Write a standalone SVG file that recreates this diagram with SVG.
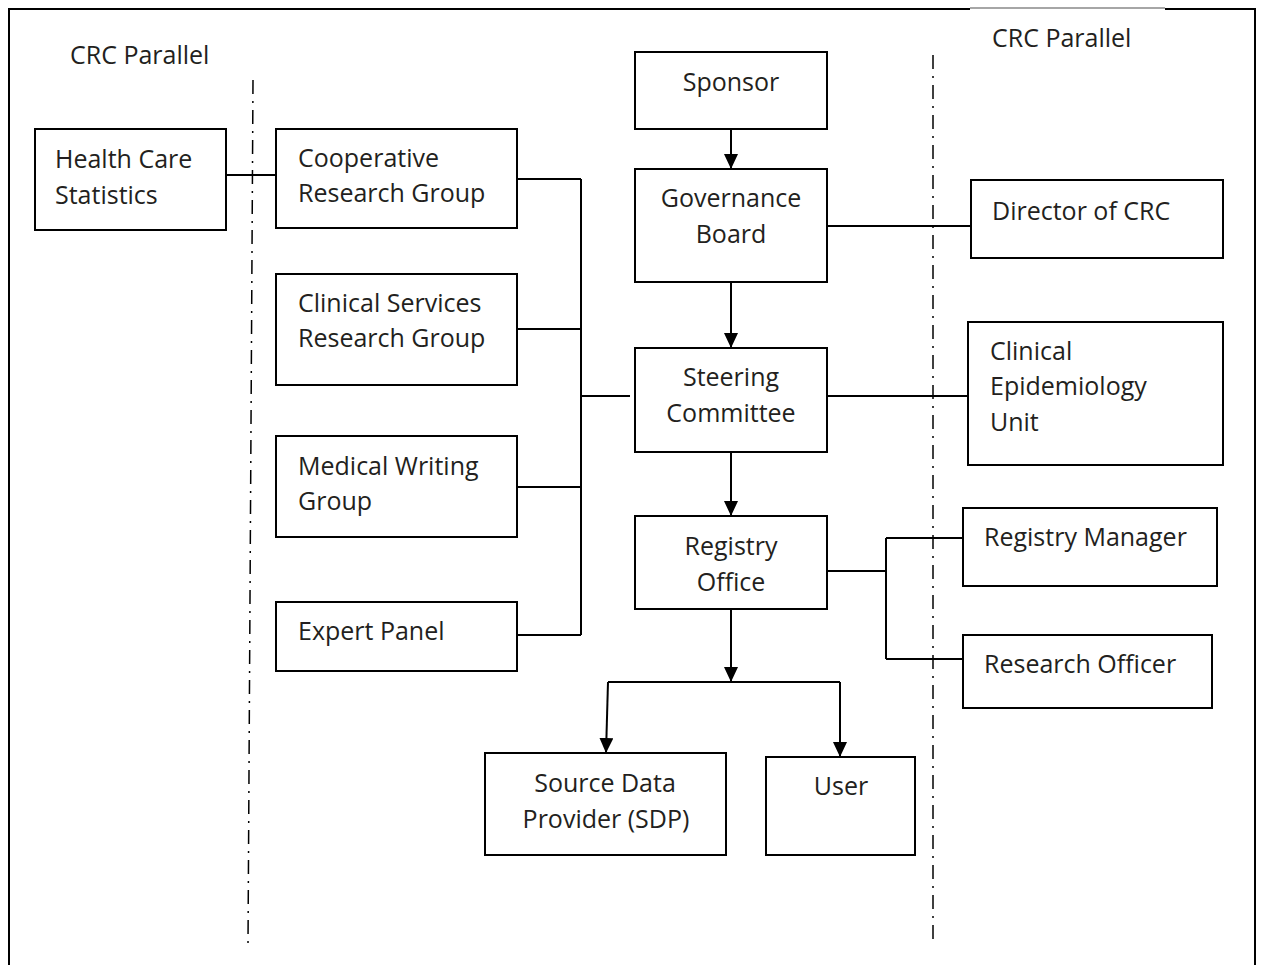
<svg xmlns="http://www.w3.org/2000/svg" width="1261" height="965" viewBox="0 0 1261 965">
<style>
.box{fill:#fff;stroke:#000;stroke-width:2}
.t{font-family:"Open Sans","Noto Sans","DejaVu Sans",sans-serif;font-size:25px;fill:#231f20}
.c{text-anchor:middle}
.ln{fill:none;stroke:#000;stroke-width:2}
.dd{fill:none;stroke:#000;stroke-width:1.5;stroke-dasharray:14 7 2 7}
</style>
<defs>
<marker id="arr" markerUnits="userSpaceOnUse" markerWidth="16" markerHeight="14" refX="15" refY="7" orient="auto">
<path d="M0,0 L15,7 L0,14 Z" fill="#000"/>
</marker>
</defs>
<rect width="1261" height="965" fill="#fff"/>
<g id="frame">
<path d="M9,965 V9 H970" class="ln"/>
<path d="M970,8 H1165" fill="none" stroke="#888" stroke-width="1.5"/>
<path d="M1165,9 H1255 V965" class="ln"/>
<path d="M253,80 L248,945" class="dd"/>
<path d="M933,55 V943" class="dd"/>
<text class="t" x="70" y="64">CRC Parallel</text>
<text class="t" x="992" y="47">CRC Parallel</text>
</g>
<g id="connectors">
<path d="M226,175 H276" class="ln"/>
<path d="M517,179 H581 M517,329 H581 M517,487 H581 M517,635 H581 M581,179 V635 M581,396 H630" class="ln"/>
<path d="M731,129 V169" class="ln" marker-end="url(#arr)"/>
<path d="M731,282 V348" class="ln" marker-end="url(#arr)"/>
<path d="M731,452 V516" class="ln" marker-end="url(#arr)"/>
<path d="M827,226 H971" class="ln"/>
<path d="M823,396 H968" class="ln"/>
<path d="M824,571 H886 M886,538 V659 M886,538 H963 M886,659 H963" class="ln"/>
<path d="M731,609 V682" class="ln" marker-end="url(#arr)"/>
<path d="M608,682 H840" class="ln"/>
<path d="M608,682 L606,753" class="ln" marker-end="url(#arr)"/>
<path d="M840,682 V757" class="ln" marker-end="url(#arr)"/>
</g>
<g id="health-care-statistics">
<rect class="box" x="35" y="129" width="191" height="101"/>
<text class="t" x="55" y="168">Health Care</text>
<text class="t" x="55" y="204">Statistics</text>
</g>
<g id="cooperative-research-group">
<rect class="box" x="276" y="129" width="241" height="99"/>
<text class="t" x="298" y="167">Cooperative</text>
<text class="t" x="298" y="202">Research Group</text>
</g>
<g id="clinical-services-research-group">
<rect class="box" x="276" y="274" width="241" height="111"/>
<text class="t" x="298" y="312">Clinical Services</text>
<text class="t" x="298" y="347">Research Group</text>
</g>
<g id="medical-writing-group">
<rect class="box" x="276" y="436" width="241" height="101"/>
<text class="t" x="298" y="475">Medical Writing</text>
<text class="t" x="298" y="510">Group</text>
</g>
<g id="expert-panel">
<rect class="box" x="276" y="602" width="241" height="69"/>
<text class="t" x="298" y="640">Expert Panel</text>
</g>
<g id="sponsor">
<rect class="box" x="635" y="52" width="192" height="77"/>
<text class="t c" x="731" y="91">Sponsor</text>
</g>
<g id="governance-board">
<rect class="box" x="635" y="169" width="192" height="113"/>
<text class="t c" x="731" y="207">Governance</text>
<text class="t c" x="731" y="243">Board</text>
</g>
<g id="steering-committee">
<rect class="box" x="635" y="348" width="192" height="104"/>
<text class="t c" x="731" y="386">Steering</text>
<text class="t c" x="731" y="422">Committee</text>
</g>
<g id="registry-office">
<rect class="box" x="635" y="516" width="192" height="93"/>
<text class="t c" x="731" y="555">Registry</text>
<text class="t c" x="731" y="591">Office</text>
</g>
<g id="source-data-provider">
<rect class="box" x="485" y="753" width="241" height="102"/>
<text class="t c" x="605" y="792">Source Data</text>
<text class="t c" x="606" y="828">Provider (SDP)</text>
</g>
<g id="user">
<rect class="box" x="766" y="757" width="149" height="98"/>
<text class="t c" x="841" y="795">User</text>
</g>
<g id="director-of-crc">
<rect class="box" x="971" y="180" width="252" height="78"/>
<text class="t" x="992" y="220">Director of CRC</text>
</g>
<g id="clinical-epidemiology-unit">
<rect class="box" x="968" y="322" width="255" height="143"/>
<text class="t" x="990" y="360">Clinical</text>
<text class="t" x="990" y="395">Epidemiology</text>
<text class="t" x="990" y="431">Unit</text>
</g>
<g id="registry-manager">
<rect class="box" x="963" y="508" width="254" height="78"/>
<text class="t" x="984" y="546">Registry Manager</text>
</g>
<g id="research-officer">
<rect class="box" x="963" y="635" width="249" height="73"/>
<text class="t" x="984" y="673">Research Officer</text>
</g>
</svg>
